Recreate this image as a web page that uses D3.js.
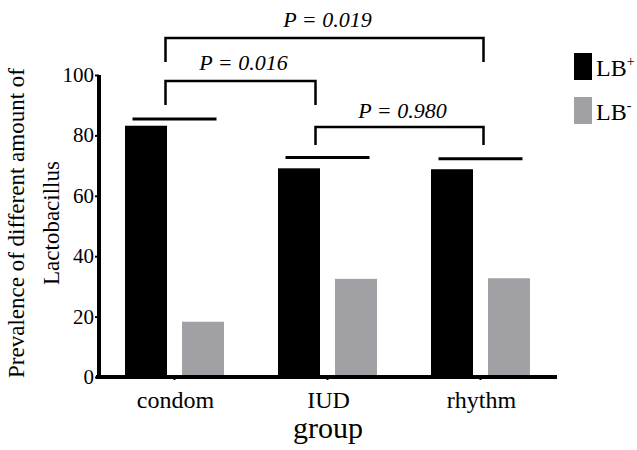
<!DOCTYPE html>
<html>
<head>
<meta charset="utf-8">
<script src="https://cdn.jsdelivr.net/npm/d3@7"></script>
<style>
  html, body { margin: 0; padding: 0; background: #fff; }
  svg { display: block; font-family: "Liberation Serif", serif; }
</style>
</head>
<body>
<svg id="chart" width="637" height="450"></svg>
<script>
// ---- data ----
const categories = ["condom", "IUD", "rhythm"];
const seriesNames = ["LB+", "LB-"];
const lbPlus  = [83.2, 69.1, 68.8];
const lbMinus = [18.3, 32.5, 32.7];
const capValues = [85.4, 72.7, 72.3];
const yTicks = [0, 20, 40, 60, 80, 100];
const comparisons = [
  { a: "condom", b: "rhythm", p: "0.019" },
  { a: "condom", b: "IUD",    p: "0.016" },
  { a: "IUD",    b: "rhythm", p: "0.980" }
];
const colors = ["#000000", "#a1a1a5"];

// ---- layout ----
const svg = d3.select("#chart");
const x0 = d3.scaleBand().domain(categories).range([98, 557]).padding(0);
const x1 = d3.scaleBand().domain(seriesNames).range([-49.5, 49.5]).paddingInner(0.263).paddingOuter(0);
const y = d3.scaleLinear().domain([0, 100]).range([377, 75]);
const cx = c => x0(c) + x0.bandwidth() / 2;

const rows = categories.map((c, i) => ({ c, vals: [lbPlus[i], lbMinus[i]], cap: capValues[i] }));

// bars
const g = svg.append("g");
rows.forEach(r => {
  r.vals.forEach((v, j) => {
    g.append("rect")
      .attr("x", cx(r.c) + x1(seriesNames[j]))
      .attr("y", y(v))
      .attr("width", x1.bandwidth())
      .attr("height", y(0) - y(v))
      .attr("fill", colors[j]);
  });
});

// cap lines above each group
g.selectAll("line.cap").data(rows).join("line")
  .attr("class", "cap")
  .attr("x1", d => cx(d.c) - 42).attr("x2", d => cx(d.c) + 42)
  .attr("y1", d => y(d.cap)).attr("y2", d => y(d.cap))
  .attr("stroke", "#000").attr("stroke-width", 3);

// y axis (lines from d3 axis, labels drawn as separate texts)
const yAxis = d3.axisLeft(y).tickValues(yTicks).tickSize(4).tickFormat("").tickSizeOuter(0);
const yg = svg.append("g").attr("transform", "translate(99,0)").call(yAxis);
yg.select(".domain").attr("stroke-width", 4).attr("d", `M0,${y(100)}V${y(0) + 2}`);
yg.selectAll(".tick line").attr("stroke-width", 2);
yg.selectAll(".tick text").remove();
const ylab = svg.append("g").attr("font-size", 21).attr("text-anchor", "end");
yTicks.forEach(v => {
  ylab.append("text").attr("x", 94).attr("y", y(v) + 7).append("tspan").text(v);
});

// x axis
const xAxis = d3.axisBottom(x0).tickSize(3).tickFormat("").tickSizeOuter(0);
const xg = svg.append("g").attr("transform", "translate(0,377)").call(xAxis);
xg.select(".domain").attr("stroke-width", 4).attr("d", "M96,0H557");
xg.selectAll(".tick line").attr("stroke-width", 2);
xg.selectAll(".tick text").remove();
const xlab = svg.append("g").attr("font-size", 24).attr("text-anchor", "middle");
categories.forEach(c => {
  xlab.append("text").attr("x", cx(c) + 1).attr("y", 408).append("tspan").text(c);
});

// axis titles
svg.append("text").attr("x", 328).attr("y", 438).attr("text-anchor", "middle").attr("font-size", 30)
  .append("tspan").text("group");
const yt = svg.append("text").attr("transform", "translate(0,223) rotate(-90)")
  .attr("text-anchor", "middle").attr("font-size", 23);
yt.append("tspan").attr("x", 0).attr("y", 24).text("Prevalence of different amount of");
yt.append("tspan").attr("x", 0).attr("y", 59).text("Lactobacillus");

// significance brackets
const endOffset = { condom: -9, IUD: -12, rhythm: 3 };
const bracketLayout = [
  { top: 38, bottom: 62, textY: 27 },
  { top: 81, bottom: 105, textY: 70 },
  { top: 127, bottom: 145, textY: 118 }
];
comparisons.forEach((cmp, i) => {
  const L = bracketLayout[i];
  const xa = cx(cmp.a) + endOffset[cmp.a];
  const xb = cx(cmp.b) + endOffset[cmp.b];
  svg.append("path")
    .attr("d", `M${xa},${L.bottom}V${L.top}H${xb}V${L.bottom}`)
    .attr("fill", "none").attr("stroke", "#000").attr("stroke-width", 2.5);
  const t = svg.append("text").attr("x", (xa + xb) / 2 + 3).attr("y", L.textY)
    .attr("text-anchor", "middle").attr("font-size", 22).attr("font-style", "italic");
  t.append("tspan").text("P = ");
  t.append("tspan").text(cmp.p);
});

// legend
const legend = svg.append("g");
seriesNames.forEach((s, i) => {
  const top = 53 + i * 44;
  legend.append("rect").attr("x", 574).attr("y", top).attr("width", 18).attr("height", 27).attr("fill", colors[i]);
  const t = legend.append("text").attr("x", 596).attr("y", top + 23).attr("font-size", 24);
  t.append("tspan").text("LB");
  t.append("tspan").attr("font-size", 14).attr("dy", -10).text(i === 0 ? "+" : "-");
});
</script>
</body>
</html>
